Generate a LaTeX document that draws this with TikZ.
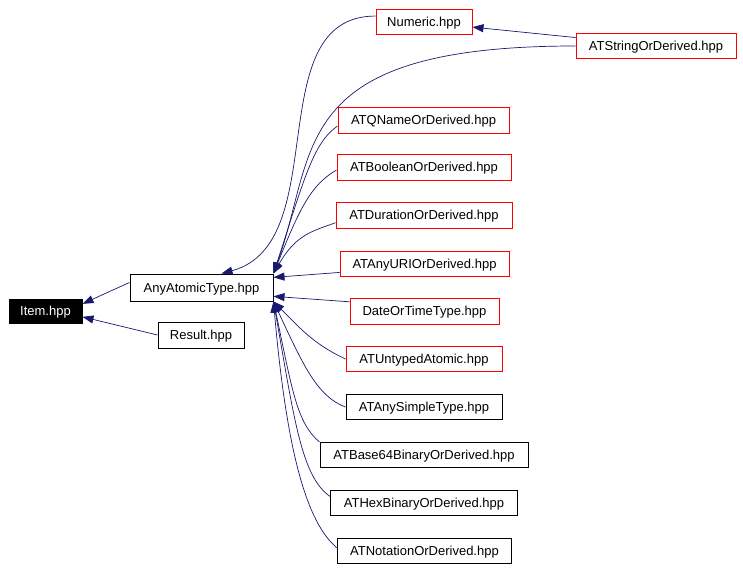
\documentclass[tikz,border=0pt]{standalone}
\usepackage{fontspec}
\setmainfont{Liberation Sans}
\usetikzlibrary{graphs,arrows.meta}
\definecolor{edgeblue}{HTML}{191970}
\tikzset{
	hbox/.style={
			draw=black, line width=1pt, minimum height=25pt, inner sep=2pt,
			text depth=0pt, font=\fontsize{13}{15}\selectfont
		},
	redbox/.style={hbox, draw=red},
	itembox/.style={hbox, fill=black, text=white},
	dep/.style={draw=edgeblue, line width=0.7pt, ->}
}

\begin{document}
\begin{tikzpicture}[x=1pt, y=1pt, >={Triangle[length=11pt,width=8pt]}]
			\useasboundingbox (0,0) rectangle (743,-570);
			\graph[no placement]{
				item/{Item.hpp}[at={(45.5,-311)}, itembox, minimum width=73pt, minimum height=24pt];
				aat/{AnyAtomicType.hpp}[at={(201.5,-287.5)}, hbox, minimum width=143pt, minimum height=27pt];
				res/{Result.hpp}[at={(201,-335)}, hbox, minimum width=86pt, minimum height=26pt];
				num/{Numeric.hpp}[at={(424,-22)}, redbox, minimum width=96pt];
				str/{ATStringOrDerived.hpp}[at={(656,-46)}, redbox, minimum width=160pt];
				qname/{ATQNameOrDerived.hpp}[at={(423.5,-120)}, redbox, minimum width=171pt, minimum height=26pt];
				bool/{ATBooleanOrDerived.hpp}[at={(424,-167)}, redbox, minimum width=174pt, minimum height=26pt];
				dur/{ATDurationOrDerived.hpp}[at={(424,-215)}, redbox, minimum width=176pt, minimum height=26pt];
				uri/{ATAnyURIOrDerived.hpp}[at={(424.5,-263.5)}, redbox, minimum width=169pt];
				dt/{DateOrTimeType.hpp}[at={(424.5,-311)}, redbox, minimum width=149pt, minimum height=26pt];
				unt/{ATUntypedAtomic.hpp}[at={(424,-359)}, redbox, minimum width=156pt];
				simple/{ATAnySimpleType.hpp}[at={(424,-407)}, hbox, minimum width=156pt];
				b64/{ATBase64BinaryOrDerived.hpp}[at={(424,-455)}, hbox, minimum width=208pt];
				hex/{ATHexBinaryOrDerived.hpp}[at={(424,-503)}, hbox, minimum width=187pt];
				nota/{ATNotationOrDerived.hpp}[at={(424.5,-551)}, hbox, minimum width=174pt];
			};

			\draw[dep] (aat.176) -- (item.11);
			\draw[dep] (res.west) -- (item.-9);
			\draw[dep] (num.173) to[out=180, in=15] (aat.35);
			\draw[dep] (str.174) -- (num.-6);
			\draw[dep] (str.west) to[out=180, in=70, out distance=290pt, in distance=130pt] (aat.north east);
			\draw[dep] (qname.184) to[out=215, in=72, out distance=30pt, in distance=100pt] (aat.north east);
			\draw[dep] (bool.182) to[out=210, in=68, out distance=30pt, in distance=70pt] (aat.north east);
			\draw[dep] (dur.185) to[out=200, in=60, out distance=25pt, in distance=45pt] (aat.north east);
			\draw[dep] (uri.186) -- (aat.8);
			\draw[dep] (dt.173) -- (aat.-7);
			\draw[dep] (unt.west) to[out=155, in=-45] (aat.south east);
			\draw[dep] (simple.west) to[out=160, in=-65, out distance=30pt, in distance=70pt] (aat.south east);
			\draw[dep] (b64.north west) to[out=140, in=-78, out distance=30pt, in distance=90pt] (aat.south east);
			\draw[dep] (hex.176) to[out=145, in=-80, out distance=35pt, in distance=120pt] (aat.south east);
			\draw[dep] (nota.178) to[out=140, in=-85, out distance=40pt, in distance=150pt] (aat.south east);
		\end{tikzpicture}
\end{document}
